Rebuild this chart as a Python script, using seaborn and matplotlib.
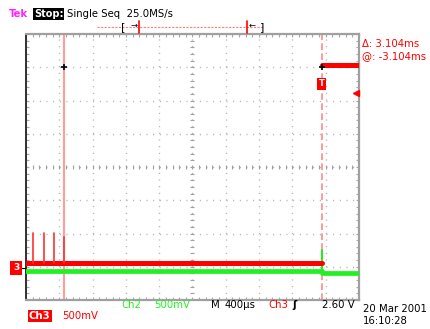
import numpy as np
import matplotlib
matplotlib.use("Agg")
import matplotlib.pyplot as plt
import seaborn as sns

# ---- acquisition data (time in ms, amplitude in screen divisions) ----
# Ch3: low level before the trigger, high level after it (separate segments)
red_time = [0.0, 3.550, 3.550, 4.0]
red_level = [-2.90, -2.90, 3.07, 3.07]
red_segment = [0, 0, 1, 1]
spike_time = [0.084, 0.216, 0.336, 0.456]
spike_top = [-1.98, -1.98, -1.98, -2.10]
# Ch2: steady level with a small step and glitch at the trigger
green_time = [0.0, 3.550, 3.556, 4.0]
green_level = [-3.14, -3.14, -3.19, -3.19]
green_segment = [0, 0, 1, 1]
glitch_time = 3.552
glitch_top = -2.50
cursor_a = 0.456
cursor_delta = 3.104
cursor_b = cursor_a + cursor_delta
cursor_level = 3.0
trigger_time = 3.550
trigger_level = 2.23

W, H = 431, 329
sns.set_style("white")
plt.rcParams['font.family'] = ['DejaVu Sans']
fig = plt.figure(figsize=(W / 100, H / 100), dpi=100)
fig.patch.set_facecolor("white")
ax = fig.add_axes([26 / W, 29 / H, 333 / W, 266 / H])
ax.set_xlim(0, 4.0)
ax.set_ylim(-4, 4)

RED = "#ff0000"
GREEN = "#22f022"
GRID = "#a8a8a8"

# graticule: dotted division lines
xdiv = np.arange(0, 4.0001, 0.4)
ydiv = np.arange(-4, 4.0001, 1.0)
ax.set_xticks(xdiv)
ax.set_yticks(ydiv)
ax.set_xticks(np.arange(0, 4.0001, 0.08), minor=True)
ax.set_yticks(np.arange(-4, 4.0001, 0.2), minor=True)
ax.set_xticklabels([])
ax.set_yticklabels([])
ax.grid(True, which="major", color=GRID, linestyle=(0, (0.7, 4.1)), linewidth=1.0)
ax.tick_params(which="both", direction="in", top=True, right=True, left=True,
               bottom=True, color=GRID, length=2.5, width=0.8)
for side, col, lw in [("left", "#303030", 1.4), ("top", "#a0a0a0", 1.6),
                      ("bottom", "#a0a0a0", 1.6), ("right", "#a0a0a0", 1.6)]:
    ax.spines[side].set_visible(True)
    ax.spines[side].set_color(col)
    ax.spines[side].set_linewidth(lw)

# center cross with minor ticks
minor_x = np.arange(0, 4.0001, 0.08)
minor_y = np.arange(-4, 4.0001, 0.2)
ax.plot(minor_x, np.zeros_like(minor_x), ls="none", marker="|", ms=2.6,
        mew=0.8, color="#a0a0a0", zorder=1)
ax.plot(np.full_like(minor_y, 2.0), minor_y, ls="none", marker="_", ms=2.6,
        mew=0.8, color="#a0a0a0", zorder=1)

# cursors
ax.axvline(cursor_a, color="#ff9c9c", lw=1.5, zorder=2)
ax.axvline(cursor_b, color="#ff8a8a", lw=1.2, ls=(0, (4, 2)), zorder=2)

# traces
sns.lineplot(x=green_time, y=green_level, units=green_segment, sort=False,
             estimator=None, color=GREEN, lw=3.4, ax=ax, zorder=3)
sns.lineplot(x=[glitch_time, glitch_time], y=[green_level[1], glitch_top],
             sort=False, estimator=None, color=GREEN, lw=1.5, ax=ax, zorder=3)
sns.lineplot(x=red_time, y=red_level, units=red_segment, sort=False,
             estimator=None, color=RED, lw=3.6, ax=ax, zorder=4)
for t, top in zip(spike_time, spike_top):
    sns.lineplot(x=[t, t], y=[red_level[0], top], sort=False, estimator=None,
                 color="#ff3030", lw=1.2, ax=ax, zorder=4)

# cursor crosshair marks
ax.plot([cursor_a, cursor_b], [cursor_level, cursor_level], ls="none",
        marker="+", ms=5, mew=1.2, color="black", zorder=6)

# trigger marker and trigger level arrow
ax.text(trigger_time, 2.50, "T", color="white", fontsize=6, fontweight="bold",
        ha="center", va="center", zorder=7,
        bbox=dict(boxstyle="square,pad=0.2", fc=RED, ec="none"))
ax.plot([3.96], [trigger_level], marker="<", ms=4, color=RED, ls="none",
        clip_on=False, zorder=7)

ax.set_xlabel("")
ax.set_ylabel("")

FS = 7.3


def px(x, y, s, **kw):
    kw.setdefault("va", "center")
    kw.setdefault("fontsize", FS)
    fig.text(x / W, 1 - y / H, s, **kw)


# header
px(9, 14, "Tek", color="#ff22ff", fontweight="bold")
px(34, 14, "Stop:", color="white", fontweight="bold", fontsize=7,
   bbox=dict(boxstyle="square,pad=0.1", fc="black", ec="none"))
px(67, 14, "Single Seq  25.0MS/s", color="black")

# record-view bracket
fig.add_artist(plt.Line2D([97 / W, 263 / W], [1 - 27 / H, 1 - 27 / H],
                          color="#ff8080", lw=0.8, ls=(0, (2, 1.2))))
fig.add_artist(plt.Line2D([139 / W, 139 / W], [1 - 21 / H, 1 - 33 / H],
                          color=RED, lw=1.2))
fig.add_artist(plt.Line2D([247 / W, 247 / W], [1 - 21 / H, 1 - 33 / H],
                          color=RED, lw=1.2))
px(121, 27, "[", color="black", fontsize=8)
px(131, 25, "→", color="black", fontsize=6)
px(249, 25, "←", color="black", fontsize=6)
px(260, 27, "]", color="black", fontsize=8)

# cursor readout
px(362, 44, "Δ: 3.104ms", color=RED)
px(362, 56, "@: -3.104ms", color=RED)

# ground reference marker
px(13, 268, "3", color="white", fontweight="bold", fontsize=6.5,
   bbox=dict(boxstyle="square,pad=0.3", fc=RED, ec="none"))
fig.add_artist(plt.Line2D([20 / W, 25 / W], [1 - 268 / H, 1 - 268 / H],
                          color="black", lw=0.8))

# footer
px(121, 305, "Ch2", color=GREEN)
px(154, 305, "500mV", color=GREEN)
px(211, 305, "M", color="black")
px(225, 305, "400µs", color="black")
px(268, 305, "Ch3", color=RED)
px(292, 305, "ʃ", color="black", fontweight="bold")
px(322, 305, "2.60 V", color="black")
px(363, 309, "20 Mar 2001", color="black")
px(363, 321, "16:10:28", color="black")
px(29, 316, "Ch3", color="white", fontweight="bold",
   bbox=dict(boxstyle="square,pad=0.1", fc=RED, ec="none"))
px(62, 316, "500mV", color=RED)

fig.savefig("out.png", dpi=100, facecolor="white")
